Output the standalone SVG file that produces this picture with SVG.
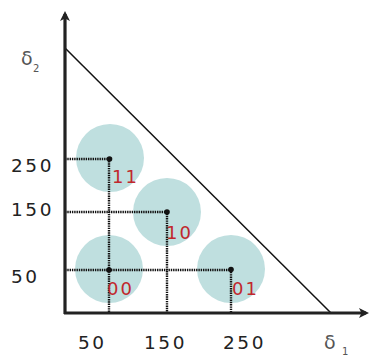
<svg xmlns="http://www.w3.org/2000/svg" width="371" height="356" viewBox="0 0 371 356">
<style>
.c{fill:#bfdfdf}
.dot{fill:#111}
.dl{fill:none;stroke:#111;stroke-width:2.4;stroke-dasharray:1.4 0.9}
.num{font-family:"DejaVu Sans",sans-serif;font-size:18.5px;fill:#222;letter-spacing:2.6px}
.lab{font-family:"DejaVu Sans",sans-serif;font-size:18px;fill:#c1272d;letter-spacing:2px}
.gr{font-family:"DejaVu Sans",sans-serif;fill:#555}
</style>
<defs>
<marker id="ah" markerWidth="10" markerHeight="10" refX="7" refY="5" orient="auto" markerUnits="userSpaceOnUse">
<path d="M0,0 L10,5 L0,10 L2.5,5 Z" fill="#222"/>
</marker>
</defs>
<g id="circles">
<g id="n11"><circle class="c" cx="110" cy="158" r="34"/></g>
<g id="n10"><circle class="c" cx="167" cy="212" r="34"/></g>
<g id="n00"><circle class="c" cx="109" cy="269" r="34"/></g>
<g id="n01"><circle class="c" cx="231" cy="269" r="34"/></g>
</g>
<g id="connectors">
<line x1="65" y1="48" x2="331" y2="313" stroke="#111" stroke-width="1.5"/>
<path class="dl" d="M65,159 H109 V313"/>
<path class="dl" d="M65,212 H167 V313"/>
<path class="dl" d="M65,270 H231 V313"/>
<line x1="65" y1="314" x2="65" y2="14" stroke="#222" stroke-width="3.2" marker-end="url(#ah)"/>
<line x1="64" y1="313" x2="366" y2="313" stroke="#222" stroke-width="3.2" marker-end="url(#ah)"/>
</g>
<g id="dots">
<circle class="dot" cx="109.5" cy="159" r="2.8"/>
<circle class="dot" cx="167" cy="212" r="2.8"/>
<circle class="dot" cx="109" cy="270" r="2.8"/>
<circle class="dot" cx="231" cy="269.5" r="2.8"/>
</g>
<g id="labels">
<text class="lab" x="112" y="183">11</text>
<text class="lab" x="166" y="239">10</text>
<text class="lab" x="107" y="295">00</text>
<text class="lab" x="232" y="295">01</text>
<text class="num" x="11" y="172">250</text>
<text class="num" x="11" y="216">150</text>
<text class="num" x="11" y="283">50</text>
<text class="num" x="78" y="349">50</text>
<text class="num" x="144" y="349">150</text>
<text class="num" x="223" y="349">250</text>
<text class="gr" x="324" y="349" font-size="19">δ</text>
<text class="gr" x="342" y="355" font-size="10">1</text>
<text class="gr" x="21" y="65" font-size="19">δ</text>
<text class="gr" x="33" y="72" font-size="10">2</text>
</g>
</svg>
